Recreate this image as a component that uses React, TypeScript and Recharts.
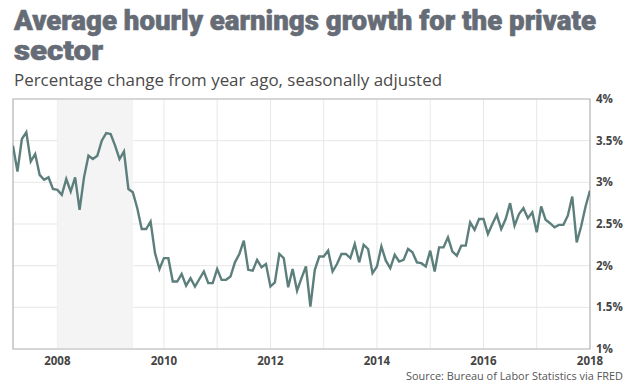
import React from "react";
import {
  LineChart,
  Line,
  XAxis,
  YAxis,
  CartesianGrid,
  ReferenceArea,
} from "recharts";

// Monthly YoY change in average hourly earnings, Mar 2007 – Jan 2018
const startYear = 2007;
const startMonth = 3;
const earningsGrowth = [
  3.44, 3.13, 3.52, 3.6, 3.25, 3.34, 3.09, 3.03, 3.06, 2.92, // 2007
  2.91, 2.85, 3.04, 2.89, 3.06, 2.67, 3.06, 3.32, 3.28, 3.32, 3.5, 3.59, // 2008
  3.58, 3.44, 3.28, 3.37, 2.92, 2.88, 2.69, 2.44, 2.44, 2.53, 2.15, 1.96, // 2009
  2.09, 2.09, 1.81, 1.81, 1.9, 1.76, 1.85, 1.75, 1.84, 1.93, 1.79, 1.79, // 2010
  1.96, 1.83, 1.83, 1.87, 2.04, 2.14, 2.3, 1.95, 1.94, 2.07, 1.98, 2.02, // 2011
  1.75, 1.8, 2.14, 2.09, 1.74, 1.96, 1.7, 1.85, 1.99, 1.51, 1.95, 2.11, // 2012
  2.11, 2.18, 1.93, 2.02, 2.14, 2.14, 2.09, 2.26, 2.04, 2.25, 2.2, 1.91, // 2013
  1.99, 2.23, 2.06, 1.97, 2.13, 2.05, 2.07, 2.2, 2.16, 2.04, 2.03, 1.99, // 2014
  2.18, 1.93, 2.22, 2.22, 2.34, 2.17, 2.12, 2.24, 2.24, 2.52, 2.43, 2.56, // 2015
  2.56, 2.38, 2.5, 2.61, 2.44, 2.56, 2.75, 2.48, 2.62, 2.69, 2.57, 2.64, // 2016
  2.4, 2.71, 2.55, 2.51, 2.46, 2.49, 2.49, 2.6, 2.83, 2.28, 2.47, 2.71, // 2017
  2.9, // 2018
];
const yearTicks = [2008, 2010, 2012, 2014, 2016, 2018];
const gridYears = [2008, 2009, 2010, 2011, 2012, 2013, 2014, 2015, 2016, 2017, 2018];
const pctTicks = [1, 1.5, 2, 2.5, 3, 3.5, 4];
const recession = [2008, 2009.42];

const data = earningsGrowth.map((value, i) => ({
  t: startYear + (startMonth - 1 + i) / 12,
  value,
}));
const xMin = data[0].t;
const xMax = data[data.length - 1].t;

const tickStyle = {
  fill: "#444",
  fontSize: 11.5,
  fontWeight: 700,
  fontFamily: "'Open Sans', sans-serif",
};

const App = () => {
  return (
    <div style={{ position: "absolute", left: 0, top: 0, width: 637, height: 388, background: "#fff" }}>
      <LineChart
        width={637}
        height={388}
        data={data}
        margin={{ top: 99, right: 7, bottom: 19, left: 13 }}
      >
        <ReferenceArea
          x1={recession[0]}
          x2={recession[1]}
          y1={1}
          y2={4}
          fill="#f4f4f4"
          fillOpacity={1}
          stroke="none"
        />
        <CartesianGrid stroke="#e7e7e7" strokeWidth={1} />
        <XAxis
          dataKey="t"
          type="number"
          domain={[xMin, xMax]}
          ticks={gridYears}
          tickFormatter={(v) => (yearTicks.includes(v) ? String(v) : "")}
          tick={tickStyle}
          tickLine={false}
          axisLine={false}
          tickSize={6}
          tickMargin={2}
          height={20}
          interval={0}
          allowDataOverflow
        />
        <YAxis
          orientation="right"
          type="number"
          domain={[1, 4]}
          ticks={pctTicks}
          tickFormatter={(v) => `${v}%`}
          tick={{ ...tickStyle, textAnchor: "start" }}
          tickLine={false}
          axisLine={false}
          tickSize={6}
          tickMargin={0}
          width={40}
          interval={0}
        />
        <ReferenceArea
          x1={xMin}
          x2={xMax}
          y1={1}
          y2={4}
          fill="none"
          stroke="#b9b9b9"
          strokeWidth={1.2}
        />
        <Line
          type="linear"
          dataKey="value"
          stroke="#5d7f7c"
          strokeWidth={2.4}
          dot={false}
          isAnimationActive={false}
        />
      </LineChart>
      <svg
        width={637}
        height={388}
        style={{ position: "absolute", left: 0, top: 0, pointerEvents: "none" }}
      >
        <g
          fontFamily="Roboto, sans-serif"
          fontWeight={900}
          fontSize={27}
          fill="#666c76"
          stroke="#666c76"
          strokeWidth={0.6}
        >
          <text x={14} y={29.5} textLength={582} lengthAdjust="spacingAndGlyphs">
            Average hourly earnings growth for the private
          </text>
          <text x={14} y={60} textLength={89} lengthAdjust="spacingAndGlyphs">
            sector
          </text>
        </g>
        <text
          x={14}
          y={86}
          fontFamily="'Open Sans', sans-serif"
          fontSize={16}
          fill="#4a4a4a"
          textLength={428}
          lengthAdjust="spacingAndGlyphs"
        >
          Percentage change from year ago, seasonally adjusted
        </text>
        <text
          x={406}
          y={380}
          fontFamily="'Open Sans', sans-serif"
          fontSize={11}
          fill="#555"
          textLength={217}
          lengthAdjust="spacingAndGlyphs"
        >
          Source: Bureau of Labor Statistics via FRED
        </text>
      </svg>
    </div>
  );
};

export default App;
